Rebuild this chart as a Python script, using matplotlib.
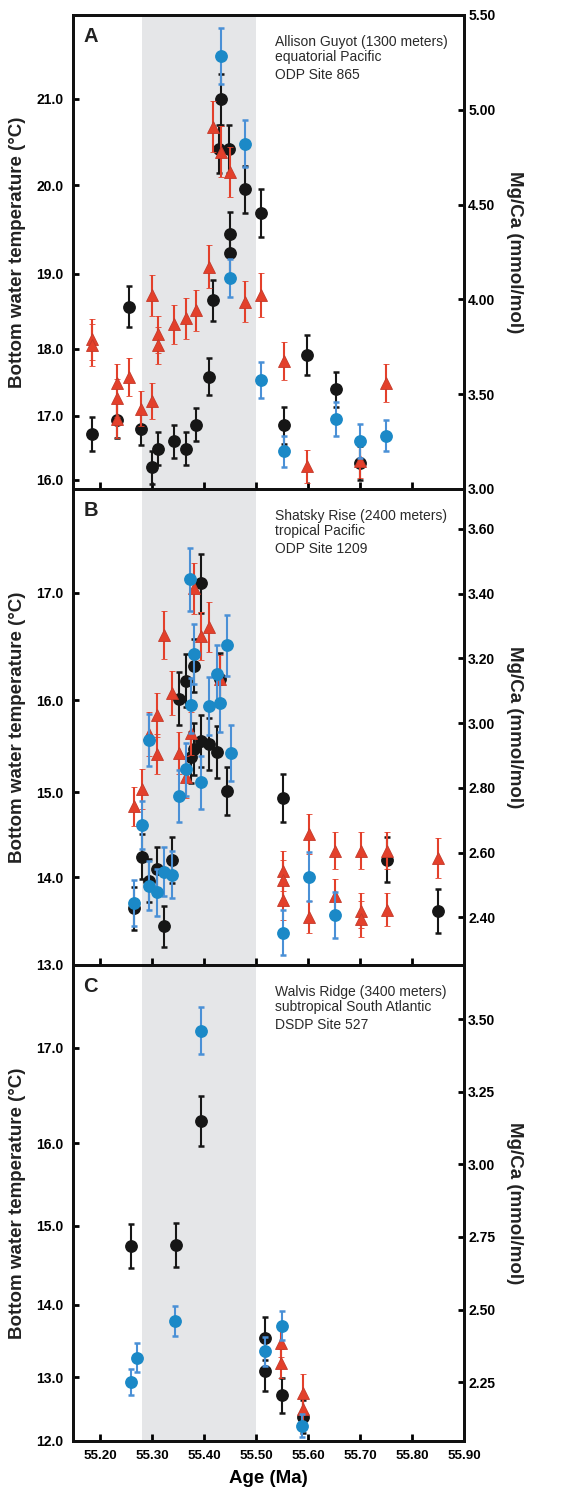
import numpy as np
import matplotlib
matplotlib.use("Agg")
import matplotlib.pyplot as plt

plt.rcParams['font.family'] = ['Liberation Sans', 'DejaVu Sans']

# ---------------- data (Mg/Ca, mmol/mol) ----------------
# Panel A - Allison Guyot
a_black_age = [55.184, 55.232, 55.256, 55.278, 55.299, 55.312, 55.343, 55.366, 55.385, 55.410,
               55.417, 55.432, 55.429, 55.448, 55.449, 55.449, 55.479, 55.509, 55.554, 55.599,
               55.653, 55.700]
a_black_mg = [3.290, 3.366, 3.961, 3.317, 3.114, 3.213, 3.252, 3.213, 3.340, 3.592,
              3.995, 5.055, 4.794, 4.794, 4.343, 4.246, 4.581, 4.456, 3.336, 3.706,
              3.525, 3.137]
a_black_err = [0.091, 0.095, 0.108, 0.085, 0.088, 0.088, 0.088, 0.088, 0.088, 0.097,
               0.107, 0.135, 0.127, 0.127, 0.12, 0.12, 0.125, 0.125, 0.097, 0.105,
               0.093, 0.09]

a_blue_age = [55.432, 55.479, 55.449, 55.509, 55.554, 55.653, 55.700, 55.750]
a_blue_mg = [5.282, 4.822, 4.111, 3.574, 3.199, 3.370, 3.252, 3.282]
a_blue_err = [0.148, 0.125, 0.10, 0.096, 0.082, 0.088, 0.09, 0.082]

a_red_age = [55.184, 55.184, 55.232, 55.232, 55.232, 55.256, 55.278, 55.299, 55.299, 55.312,
             55.312, 55.343, 55.366, 55.385, 55.410, 55.417, 55.432, 55.449, 55.479, 55.509,
             55.554, 55.599, 55.700, 55.750]
a_red_mg = [3.789, 3.759, 3.560, 3.481, 3.371, 3.590, 3.424, 3.463, 4.021, 3.815,
            3.757, 3.868, 3.900, 3.942, 4.173, 4.910, 4.780, 4.673, 3.988, 4.021,
            3.674, 3.120, 3.146, 3.560]
a_red_err = [0.11, 0.11, 0.10, 0.10, 0.10, 0.10, 0.094, 0.094, 0.11, 0.10,
             0.10, 0.105, 0.11, 0.107, 0.115, 0.134, 0.132, 0.132, 0.107, 0.116,
             0.10, 0.088, 0.09, 0.099]

# Panel B - Shatsky Rise
b_black_age = [55.266, 55.281, 55.294, 55.309, 55.323, 55.338, 55.352, 55.366, 55.380, 55.395,
               55.374, 55.381, 55.395, 55.409, 55.424, 55.445, 55.431, 55.551, 55.751, 55.850]
b_black_mg = [2.428, 2.587, 2.513, 2.549, 2.372, 2.577, 3.075, 3.131, 3.178, 3.432,
              2.894, 2.920, 2.946, 2.936, 2.910, 2.791, 3.137, 2.768, 2.578, 2.419]
b_black_err = [0.067, 0.07, 0.067, 0.067, 0.063, 0.07, 0.082, 0.082, 0.083, 0.092,
               0.08, 0.08, 0.08, 0.08, 0.08, 0.075, 0.08, 0.075, 0.07, 0.067]

b_blue_age = [55.266, 55.281, 55.294, 55.294, 55.309, 55.323, 55.338, 55.352, 55.366, 55.373,
              55.374, 55.381, 55.395, 55.409, 55.424, 55.431, 55.445, 55.452, 55.551, 55.601,
              55.651]
b_blue_mg = [2.444, 2.685, 2.498, 2.949, 2.477, 2.541, 2.532, 2.774, 2.858, 3.445,
             3.056, 3.214, 2.817, 3.052, 3.152, 3.061, 3.241, 2.908, 2.352, 2.526,
             2.407]
b_blue_err = [0.072, 0.075, 0.075, 0.08, 0.073, 0.075, 0.073, 0.08, 0.082, 0.097,
              0.085, 0.092, 0.082, 0.09, 0.09, 0.087, 0.094, 0.086, 0.07, 0.077,
              0.07]

b_red_age = [55.266, 55.281, 55.294, 55.309, 55.309, 55.323, 55.338, 55.352, 55.366, 55.374,
             55.381, 55.395, 55.409, 55.431, 55.551, 55.551, 55.551, 55.601, 55.601, 55.651,
             55.651, 55.701, 55.701, 55.701, 55.751, 55.751, 55.850]
b_red_mg = [2.743, 2.797, 2.967, 3.025, 2.905, 3.272, 3.093, 2.908, 2.833, 2.969,
            3.417, 3.270, 3.297, 3.137, 2.544, 2.516, 2.455, 2.658, 2.400, 2.606,
            2.465, 2.606, 2.421, 2.395, 2.606, 2.424, 2.582]
b_red_err = [0.06, 0.062, 0.067, 0.067, 0.063, 0.074, 0.068, 0.065, 0.065, 0.067,
             0.079, 0.075, 0.076, 0.073, 0.062, 0.062, 0.062, 0.061, 0.05, 0.058,
             0.053, 0.057, 0.055, 0.055, 0.058, 0.05, 0.062]

# Panel C - Walvis Ridge
c_black_age = [55.259, 55.346, 55.394, 55.518, 55.518, 55.550, 55.591]
c_black_mg = [2.719, 2.723, 3.150, 2.401, 2.290, 2.206, 2.132]
c_black_err = [0.075, 0.076, 0.086, 0.073, 0.07, 0.06, 0.058]

c_blue_age = [55.394, 55.259, 55.272, 55.345, 55.518, 55.550, 55.589]
c_blue_mg = [3.460, 2.252, 2.335, 2.461, 2.356, 2.445, 2.101]
c_blue_err = [0.08, 0.045, 0.049, 0.051, 0.05, 0.05, 0.04]

c_red_age = [55.548, 55.548, 55.591, 55.591]
c_red_mg = [2.386, 2.315, 2.212, 2.157]
c_red_err = [0.05, 0.05, 0.066, 0.05]

# axis definitions
x_ticks = [55.20, 55.30, 55.40, 55.50, 55.60, 55.70, 55.80, 55.90]
petm_span = (55.28, 55.50)

a_mg_ticks = [3.00, 3.50, 4.00, 4.50, 5.00, 5.50]
a_t_labels = ['16.0', '17.0', '18.0', '19.0', '20.0', '21.0']
a_t_pos = [3.049, 3.387, 3.740, 4.136, 4.602, 5.058]

b_mg_ticks = [2.40, 2.60, 2.80, 3.00, 3.20, 3.40, 3.60]
b_t_labels = ['13.0', '14.0', '15.0', '16.0', '17.0']
b_t_pos = [2.2526, 2.524, 2.786, 3.0715, 3.403]

c_mg_ticks = [2.25, 2.50, 2.75, 3.00, 3.25, 3.50]
c_t_labels = ['12.0', '13.0', '14.0', '15.0', '16.0', '17.0']
c_t_pos = [2.048, 2.267, 2.516, 2.789, 3.072, 3.401]

panels = [
    dict(letter='A', lines=['Allison Guyot (1300 meters)', 'equatorial Pacific', 'ODP Site 865'],
         ylim=(3.0, 5.5), mg_ticks=a_mg_ticks, t_pos=a_t_pos, t_labels=a_t_labels,
         black=(a_black_age, a_black_mg, a_black_err), red=(a_red_age, a_red_mg, a_red_err),
         blue=(a_blue_age, a_blue_mg, a_blue_err), rect=(73, 15, 464, 489)),
    dict(letter='B', lines=['Shatsky Rise (2400 meters)', 'tropical Pacific', 'ODP Site 1209'],
         ylim=(2.2526, 3.7236), mg_ticks=b_mg_ticks, t_pos=b_t_pos, t_labels=b_t_labels,
         black=(b_black_age, b_black_mg, b_black_err), red=(b_red_age, b_red_mg, b_red_err),
         blue=(b_blue_age, b_blue_mg, b_blue_err), rect=(73, 489, 464, 965)),
    dict(letter='C', lines=['Walvis Ridge (3400 meters)', 'subtropical South Atlantic', 'DSDP Site 527'],
         ylim=(2.048, 3.686), mg_ticks=c_mg_ticks, t_pos=c_t_pos, t_labels=c_t_labels,
         black=(c_black_age, c_black_mg, c_black_err), red=(c_red_age, c_red_mg, c_red_err),
         blue=(c_blue_age, c_blue_mg, c_blue_err), rect=(73, 965, 464, 1441)),
]

W, H = 583, 1489
fig = plt.figure(figsize=(W / 100, H / 100), dpi=100)

BLACK = '#161616'
RED = '#e3402b'
RED_EDGE = '#c4392a'
BLUE = '#1b89c7'
BLUE_ERR = '#4a90d6'
SHADE = '#e5e6e8'
SPINE_LW = 2.1

for i, p in enumerate(panels):
    x0, y0, x1, y1 = p['rect']
    ax = fig.add_axes([x0 / W, 1 - y1 / H, (x1 - x0) / W, (y1 - y0) / H])
    ax.set_xlim(55.148, 55.90)
    ax.set_ylim(*p['ylim'])
    ax.axvspan(*petm_span, color=SHADE, zorder=0, lw=0)

    ag, mg, er = p['black']
    ax.errorbar(ag, mg, yerr=er, fmt='o', color=BLACK, ms=8.2, elinewidth=1.5,
                capsize=1.9, capthick=1.8, zorder=3)
    ag, mg, er = p['red']
    ax.errorbar(ag, mg, yerr=er, fmt='^', color=RED, mfc=RED, mec=RED_EDGE, mew=0.6, ms=8.3,
                elinewidth=1.5, capsize=1.9, capthick=1.8, zorder=4)
    ag, mg, er = p['blue']
    ax.errorbar(ag, mg, yerr=er, fmt='o', color=BLUE_ERR, mfc=BLUE, mec=BLUE, ms=8.2,
                elinewidth=1.5, capsize=1.9, capthick=1.8, zorder=5)

    # left: temperature ticks
    ax.set_yticks(p['t_pos'])
    ax.set_yticklabels(p['t_labels'])
    ax.tick_params(axis='y', direction='in', length=4.3, width=2.0, pad=7,
                   labelsize=10)
    ax.set_xticks(x_ticks)
    ax.tick_params(axis='x', direction='in', length=4.8, width=2.0, pad=6.5,
                   labelsize=9.6, top=False)
    if p['letter'] == 'C':
        ax.set_xticklabels(['%.2f' % v for v in x_ticks])
        ax.set_xlabel('Age (Ma)', fontsize=13.5, fontweight='bold', labelpad=6)
    else:
        ax.set_xticklabels([])
    for lab in ax.get_xticklabels() + ax.get_yticklabels():
        lab.set_fontweight('bold')

    # right: Mg/Ca ticks
    ax2 = ax.twinx()
    ax2.set_ylim(*p['ylim'])
    ax2.set_yticks(p['mg_ticks'])
    ax2.set_yticklabels(['%.2f' % v for v in p['mg_ticks']])
    ax2.tick_params(axis='y', direction='in', length=4.3, width=2.0, pad=3,
                    labelsize=10)
    for lab in ax2.get_yticklabels():
        lab.set_fontweight('bold')

    for a in (ax, ax2):
        for s in a.spines.values():
            s.set_linewidth(SPINE_LW)
            s.set_color('#111111')

    ax.text(0.026, 1 - 22 / (y1 - y0), p['letter'], transform=ax.transAxes,
            fontsize=14.5, fontweight='bold', ha='left', va='center', color='#222222')
    offs = [27, 42, 60]
    for line, o in zip(p['lines'], offs):
        ax.text((275 - x0) / (x1 - x0), 1 - o / (y1 - y0), line, transform=ax.transAxes,
                fontsize=10, ha='left', va='center', color='#2a2a2a')

    yc = 1 - ((y0 + y1) / 2) / H
    fig.text(18 / W, yc, 'Bottom water temperature (\u00b0C)', rotation=90,
             ha='center', va='center', fontsize=13.5, fontweight='bold', color='#222222')
    fig.text(515 / W, yc, 'Mg/Ca (mmol/mol)', rotation=270,
             ha='center', va='center', fontsize=13.5, fontweight='bold', color='#222222')

fig.savefig('out.png', dpi=100)
